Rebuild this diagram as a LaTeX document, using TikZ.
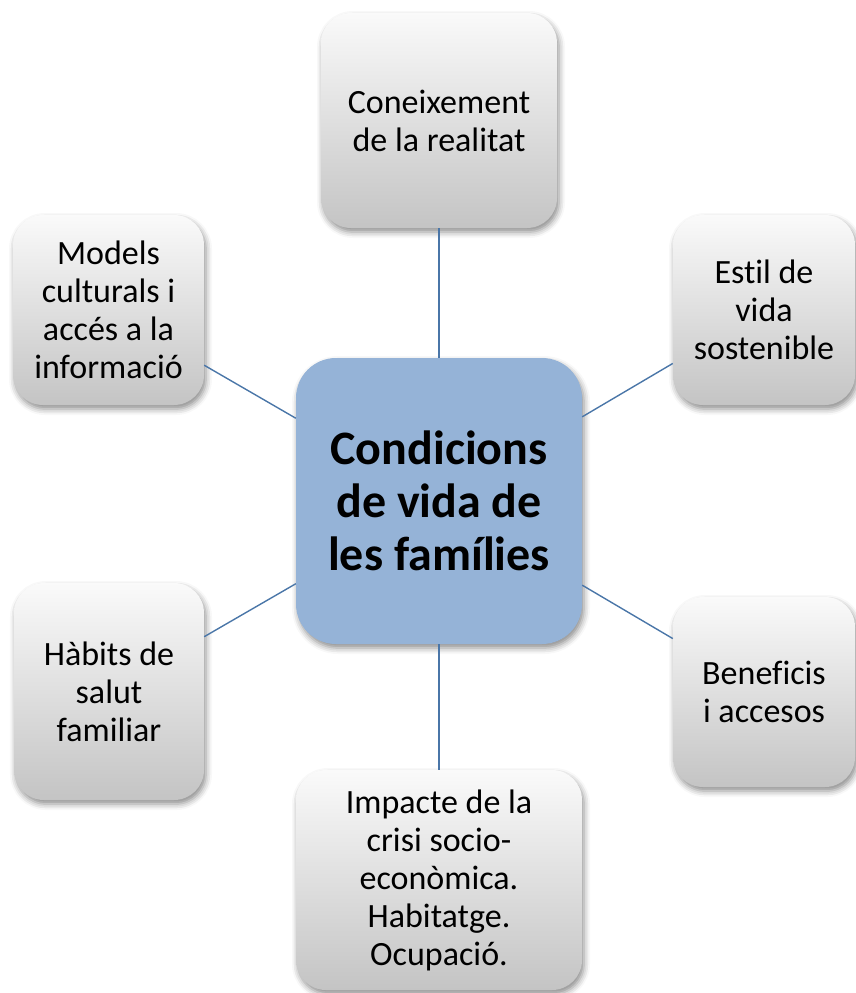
\documentclass[tikz,border=0pt]{standalone}
\usepackage{fontspec}
\setmainfont[Ligatures={NoCommon}]{Carlito}
\usetikzlibrary{shadows.blur}
\definecolor{centrefill}{HTML}{95B3D7}
\definecolor{linkblue}{HTML}{4A76A8}
\definecolor{graytop}{HTML}{FAFAFA}
\definecolor{graybot}{HTML}{C4C4C4}
\begin{document}
\begin{tikzpicture}[x=1pt,y=-1pt,
  shade/.style={blur shadow={shadow xshift=2pt,shadow yshift=-4pt,shadow blur radius=6pt,shadow opacity=45}},
  graybox/.style={shade,rounded corners=30pt,top color=graytop,bottom color=graybot,
    draw=none,inner sep=0pt,align=center,font=\fontsize{34}{38}\selectfont},
  centrebox/.style={shade,rounded corners=40pt,fill=centrefill,draw=none,inner sep=0pt,
    align=center,font=\fontsize{48}{53}\selectfont\bfseries,
    minimum width=286pt,minimum height=286pt},
  link/.style={draw=linkblue,line width=1.4pt}]
\useasboundingbox (0,0) rectangle (856,993);
\node[centrebox] (c) at (439,501) {Condicions\\de vida de\\les famílies};
\node[graybox,minimum width=236pt,minimum height=215pt] (t) at (439,120.5) {Coneixement\\de la realitat};
\node[graybox,minimum width=191pt,minimum height=190pt] (lu) at (108.5,310) {Models\\culturals i\\accés a la\\informació};
\node[graybox,minimum width=182pt,minimum height=190pt] (ru) at (764,310) {Estil de\\vida\\sostenible};
\node[graybox,minimum width=190pt,minimum height=217pt] (ll) at (109,691.5) {Hàbits de\\salut\\familiar};
\node[graybox,minimum width=182pt,minimum height=190pt] (rl) at (764,692) {Beneficis\\i accesos};
\node[graybox,minimum width=286pt,minimum height=220pt] (b) at (439,880) {Impacte de la\\crisi socio-\\econòmica.\\Habitatge.\\Ocupació.};
\draw[link] (c) -- (t);
\draw[link] (c) -- (lu);
\draw[link] (c) -- (ru);
\draw[link] (c) -- (ll);
\draw[link] (c) -- (rl);
\draw[link] (c) -- (b);
\end{tikzpicture}
\end{document}
